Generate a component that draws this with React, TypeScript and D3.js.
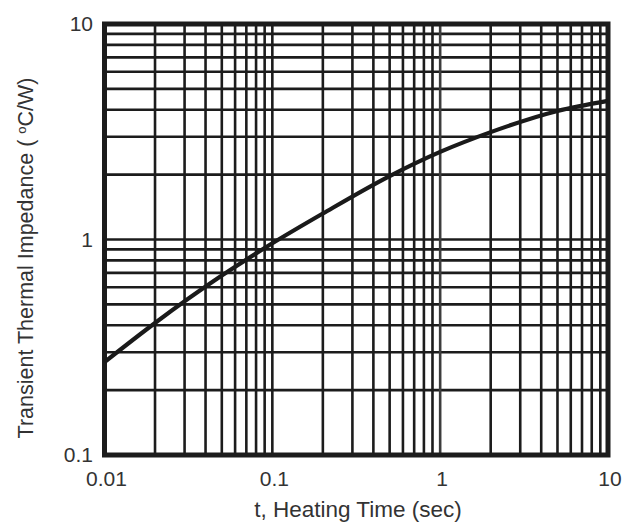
import { useEffect, useRef } from "react";
import * as d3 from "d3";

// heating time (sec) vs transient thermal impedance (°C/W)
const times = [0.01, 0.02, 0.05, 0.1, 0.2, 0.5, 1, 2, 5, 10];
const impedance = [0.27, 0.41, 0.68, 0.96, 1.32, 1.97, 2.55, 3.15, 3.95, 4.4];

const xTicks = [0.01, 0.1, 1, 10];
const yTicks = [0.1, 1, 10];
const xTickLabels = ["0.01", "0.1", "1", "10"];
const yTickLabels = ["0.1", "1", "10"];

const width = 639;
const height = 523;
const margin = { top: 24, right: 31, bottom: 68, left: 104.5 };
const font = "'Liberation Sans', Arial, sans-serif";

const buildGraph = (ref: SVGSVGElement) => {
  const svg = d3.select(ref);
  svg.selectAll("*").remove();

  const x = d3
    .scaleLog()
    .domain([0.01, 10])
    .range([margin.left, width - margin.right]);
  const y = d3
    .scaleLog()
    .domain([0.1, 10])
    .range([height - margin.bottom, margin.top]);

  // minor + major grid values: 1..9 per decade
  const gridX: number[] = [];
  for (let e = -2; e < 1; e++) for (let m = 1; m < 10; m++) gridX.push(m * Math.pow(10, e));
  const gridY: number[] = [];
  for (let e = -1; e < 1; e++) for (let m = 1; m < 10; m++) gridY.push(m * Math.pow(10, e));

  const grid = svg.append("g").attr("stroke", "#1c1c1c").attr("stroke-width", 2.6);
  grid
    .selectAll("line.h")
    .data(gridY)
    .enter()
    .append("line")
    .attr("x1", x(0.01))
    .attr("x2", x(10))
    .attr("y1", (d) => y(d))
    .attr("y2", (d) => y(d));
  grid
    .selectAll("line.v")
    .data(gridX)
    .enter()
    .append("line")
    .attr("y1", y(0.1))
    .attr("y2", y(10))
    .attr("x1", (d) => x(d))
    .attr("x2", (d) => x(d))
    .attr("stroke", (d) => (d === 1 ? "#3c3c3c" : null));

  // frame
  svg
    .append("rect")
    .attr("x", x(0.01))
    .attr("y", y(10))
    .attr("width", x(10) - x(0.01))
    .attr("height", y(0.1) - y(10))
    .attr("fill", "none")
    .attr("stroke", "#1c1c1c")
    .attr("stroke-width", 5);

  const line = d3
    .line<number>()
    .x((d, i) => x(times[i]))
    .y((d) => y(d))
    .curve(d3.curveMonotoneX);

  svg
    .append("path")
    .datum(impedance)
    .attr("d", line)
    .attr("fill", "none")
    .attr("stroke", "#1a1a1a")
    .attr("stroke-width", 4.2);

  const labels = svg
    .append("g")
    .style("font-family", font)
    .style("font-size", "21px")
    .attr("fill", "#333");

  labels
    .selectAll("text.x")
    .data(xTicks)
    .enter()
    .append("text")
    .attr("x", (d) => x(d) + 2)
    .attr("y", 486)
    .attr("text-anchor", "middle")
    .text((d, i) => xTickLabels[i]);

  labels
    .selectAll("text.y")
    .data(yTicks)
    .enter()
    .append("text")
    .attr("x", 93)
    .attr("y", (d) => y(d) + 7)
    .attr("text-anchor", "end")
    .text((d, i) => yTickLabels[i]);

  labels
    .append("text")
    .attr("x", 358)
    .attr("y", 517)
    .attr("text-anchor", "middle")
    .style("font-size", "22.5px")
    .text("t, Heating Time (sec)");

  const yTitle = labels
    .append("text")
    .attr("transform", "translate(33 258) rotate(-90)")
    .attr("text-anchor", "middle")
    .style("font-size", "21.5px");
  yTitle.append("tspan").text("Transient Thermal Impedance ( ");
  yTitle.append("tspan").attr("dy", -7).style("font-size", "13px").text("o");
  yTitle.append("tspan").attr("dy", 7).text("C/W)");
};

export default function App() {
  const ref = useRef<SVGSVGElement>(null);
  useEffect(() => {
    if (ref.current) buildGraph(ref.current);
  }, []);
  return (
    <svg
      ref={ref}
      width={width}
      height={height}
      style={{ position: "absolute", left: 0, top: 0, background: "#fff" }}
    ></svg>
  );
}
